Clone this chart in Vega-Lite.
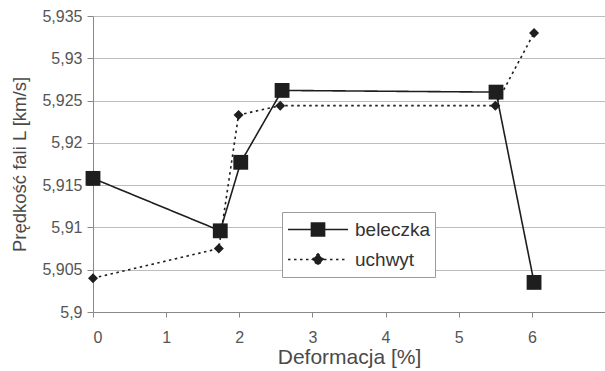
{
  "$schema": "https://vega.github.io/schema/vega-lite/v6.json",
  "autosize": "none",
  "width": 512,
  "height": 296,
  "padding": {"left": 93, "top": 16, "right": 0, "bottom": 59},
  "background": "white",
  "config": {
    "locale": {"number": {"decimal": ",", "thousands": " ", "grouping": [3], "currency": ["", " zł"]}},
    "font": "Liberation Sans",
    "view": {"stroke": null},
    "axis": {"labelFont": "Liberation Sans", "titleFont": "Liberation Sans", "labelColor": "#555", "titleColor": "#4a4a4a", "titleFontWeight": "normal", "domainColor": "#888", "tickColor": "#888", "gridColor": "#bdbdbd"}
  },
  "data": {
    "values": [
      {"series": "beleczka", "x": 0, "y": 5.9158},
      {"series": "beleczka", "x": 1.74, "y": 5.9096},
      {"series": "beleczka", "x": 2.02, "y": 5.9177},
      {"series": "beleczka", "x": 2.585, "y": 5.9262},
      {"series": "beleczka", "x": 5.51, "y": 5.926},
      {"series": "beleczka", "x": 6.03, "y": 5.9035},
      {"series": "uchwyt", "x": 0, "y": 5.904},
      {"series": "uchwyt", "x": 1.72, "y": 5.9075},
      {"series": "uchwyt", "x": 1.99, "y": 5.9233},
      {"series": "uchwyt", "x": 2.56, "y": 5.9244},
      {"series": "uchwyt", "x": 5.5, "y": 5.9244},
      {"series": "uchwyt", "x": 6.03, "y": 5.933}
    ]
  },
  "encoding": {
    "x": {
      "field": "x", "type": "quantitative",
      "scale": {"domain": [0, 7], "nice": false},
      "axis": {"title": "Deformacja [%]", "values": [0, 1, 2, 3, 4, 5, 6], "grid": false, "labelFontSize": 16, "titleFontSize": 21, "tickSize": 5, "labelPadding": 12, "titlePadding": 1}
    },
    "y": {
      "field": "y", "type": "quantitative",
      "scale": {"domain": [5.9, 5.935], "nice": false, "zero": false},
      "axis": {"title": "Prędkość fali L [km/s]", "values": [5.9, 5.905, 5.91, 5.915, 5.92, 5.925, 5.93, 5.935], "format": ".3~f", "labelFontSize": 16, "titleFontSize": 18.5, "tickSize": 6, "labelPadding": 5, "titlePadding": 12, "grid": true}
    }
  },
  "layer": [
    {
      "mark": {"type": "line", "color": "#1e1e1e", "strokeWidth": 1.6},
      "encoding": {
        "strokeDash": {
          "field": "series", "type": "nominal",
          "scale": {"domain": ["beleczka", "uchwyt"], "range": [[1, 0], [2.5, 3.5]]}
        }
      }
    },
    {
      "transform": [{"filter": "datum.series === 'beleczka'"}],
      "mark": {"type": "point", "filled": true, "color": "#1e1e1e", "opacity": 1, "shape": "square", "size": 220}
    },
    {
      "transform": [{"filter": "datum.series === 'uchwyt'"}],
      "mark": {"type": "point", "filled": true, "color": "#1e1e1e", "opacity": 1, "shape": "diamond", "size": 100}
    },
    {
      "transform": [{"filter": "datum.x < 0"}],
      "mark": {"type": "point", "fill": "#1e1e1e", "stroke": "#1e1e1e", "strokeWidth": 1.5, "opacity": 1},
      "encoding": {
        "shape": {
          "field": "series", "type": "nominal",
          "scale": {"domain": ["beleczka", "uchwyt"], "range": ["M-1,0H1M-0.22,-0.22H0.22V0.22H-0.22Z", "M-1,0H1M0,-0.19L0.19,0L0,0.19L-0.19,0Z"]},
          "legend": {
            "title": null,
            "orient": "none",
            "legendX": 189,
            "legendY": 196,
            "fillColor": "white",
            "strokeColor": "#9a9a9a",
            "padding": 5,
            "symbolSize": 3600,
            "symbolFillColor": "#1e1e1e",
            "symbolStrokeColor": "#1e1e1e",
            "symbolStrokeWidth": 1.5,
            "clipHeight": 25,
            "rowPadding": 5,
            "labelFontSize": 19,
            "labelColor": "#333",
            "labelOffset": 6,
            "encode": {"symbols": {"update": {"fill": {"value": "#1e1e1e"}, "stroke": {"value": "#1e1e1e"}}}}
          }
        },
        "strokeDash": {
          "field": "series", "type": "nominal",
          "scale": {"domain": ["beleczka", "uchwyt"], "range": [[1, 0], [2.5, 3.5]]}
        }
      }
    }
  ]
}
